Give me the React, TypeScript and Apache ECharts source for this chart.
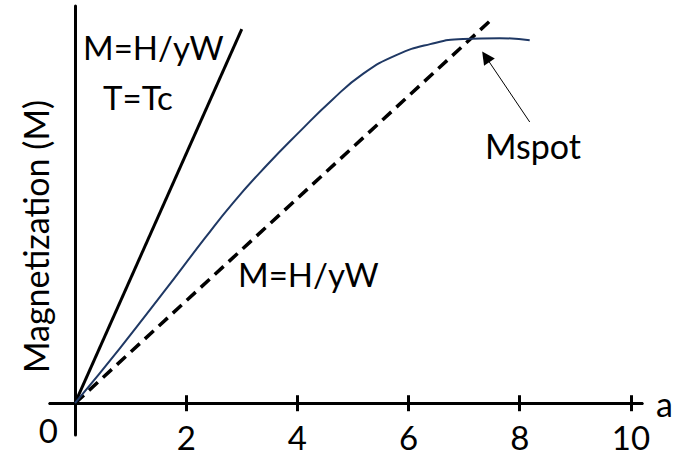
import React, { useEffect, useRef } from "react";
import * as echarts from "echarts";

// ---- data (axis units) ----
const xTickValues = [2, 4, 6, 8, 10];
const originTick = [0];
const xAxisName = "a";
const yAxisName = "Magnetization (M)";

// critical-temperature line M = H / yW at T = Tc
const tcLineX = [0, 3.0];
const tcLineY = [0, 9.42];

// dashed reference line M = H / yW
const dashLineX = [0, 7.54];
const dashLineY = [0, 9.72];

// magnetization curve
const curveX = [0, 0.81, 1.58, 2.34, 2.84, 3.45, 4.05, 4.62, 5.18, 5.79, 6.39, 6.98, 7.64, 8.18];
const curveY = [0, 1.39, 2.77, 4.16, 5.04, 5.99, 6.85, 7.63, 8.29, 8.77, 9.04, 9.17, 9.19, 9.14];

// Mspot arrow (from label toward the curve)
const arrowFrom = [8.18, 7.08];
const arrowTo = [7.39, 8.72];

const labelTexts = ["M=H/yW", "T=Tc", "M=H/yW", "Mspot"];

const FONT = "Lato, 'Open Sans', sans-serif";

function zip(xs: number[], ys: number[]) {
  return xs.map((x, i) => [x, ys[i]]);
}

export default function App() {
  const ref = useRef<HTMLDivElement>(null);

  useEffect(() => {
    if (!ref.current) return;
    const chart = echarts.init(ref.current, undefined, { renderer: "svg" });
    const black = "#000000";
    const xRange = { min: -0.45, max: 10.2 };
    const option: any = {
      animation: false,
      backgroundColor: "#ffffff",
      grid: { left: 50, right: 32, top: 6, bottom: 23, containLabel: false, outerBoundsMode: "none" },
      xAxis: [
        {
          type: "value",
          ...xRange,
          position: "bottom",
          axisLine: { show: true, onZero: true, onZeroAxisIndex: 0, lineStyle: { color: black, width: 3 } },
          axisTick: { show: true, customValues: xTickValues, inside: false, length: 8, lineStyle: { color: black, width: 3 } },
          axisLabel: {
            show: true,
            customValues: xTickValues,
            color: black,
            fontFamily: FONT,
            fontSize: 33,
            lineHeight: 30,
            margin: -13,
          },
          splitLine: { show: false },
          name: xAxisName,
          nameLocation: "end",
          nameGap: 14,
          nameMoveOverlap: false,
          nameTextStyle: { color: black, fontFamily: FONT, fontSize: 34, verticalAlign: "middle", align: "left", padding: [0, 0, 8, 0] },
        },
        {
          type: "value",
          ...xRange,
          position: "bottom",
          axisLine: { show: true, onZero: true, onZeroAxisIndex: 0, lineStyle: { color: black, width: 3 } },
          axisTick: { show: true, customValues: xTickValues, inside: true, length: 8, lineStyle: { color: black, width: 3 } },
          axisLabel: { show: false },
          splitLine: { show: false },
        },
      ],
      yAxis: {
        type: "value",
        min: -0.8,
        max: 10,
        axisLine: { show: true, onZero: true, onZeroAxisIndex: 0, lineStyle: { color: black, width: 3 } },
        axisTick: { show: false },
        axisLabel: {
          show: true,
          customValues: originTick,
          color: black,
          fontFamily: FONT,
          fontSize: 33,
          lineHeight: 54,
          verticalAlign: "top",
          align: "right",
          margin: -8,
        },
        splitLine: { show: false },
        name: yAxisName,
        nameLocation: "middle",
        nameRotate: 90,
        nameGap: -2,
        nameMoveOverlap: false,
        nameTextStyle: { color: black, fontFamily: FONT, fontSize: 34, padding: [0, 32, 0, 0] },
      },
      series: [
        {
          type: "line",
          data: zip(tcLineX, tcLineY),
          symbol: "none",
          lineStyle: { color: black, width: 3 },
          silent: true,
        },
        {
          type: "line",
          data: zip(dashLineX, dashLineY),
          symbol: "none",
          lineStyle: { color: black, width: 3.5, type: [12, 7] },
          silent: true,
        },
        {
          type: "line",
          data: zip(curveX, curveY),
          symbol: "none",
          smooth: 0.5,
          lineStyle: { color: "#1f3864", width: 2 },
          silent: true,
          markLine: {
            silent: true,
            symbol: ["none", "triangle"],
            symbolSize: 13,
            label: { show: false },
            lineStyle: { color: black, width: 1, type: "solid" },
            data: [[{ coord: arrowFrom }, { coord: arrowTo }]],
          },
        },
      ],
      graphic: [
        { type: "text", x: 83, y: 47, style: { text: labelTexts[0], font: `33px ${FONT}`, fill: black, align: "left", verticalAlign: "middle" } },
        { type: "text", x: 103, y: 97, style: { text: labelTexts[1], font: `33px ${FONT}`, fill: black, align: "left", verticalAlign: "middle" } },
        { type: "text", x: 238, y: 274, style: { text: labelTexts[2], font: `33px ${FONT}`, fill: black, align: "left", verticalAlign: "middle" } },
        { type: "text", x: 485, y: 145, style: { text: labelTexts[3], font: `34px ${FONT}`, fill: black, align: "left", verticalAlign: "middle" } },
      ],
    };
    chart.setOption(option);
    return () => chart.dispose();
  }, []);

  return (
    <div
      ref={ref}
      style={{ position: "absolute", left: 0, top: 0, width: 674, height: 458, background: "#fff" }}
    />
  );
}
